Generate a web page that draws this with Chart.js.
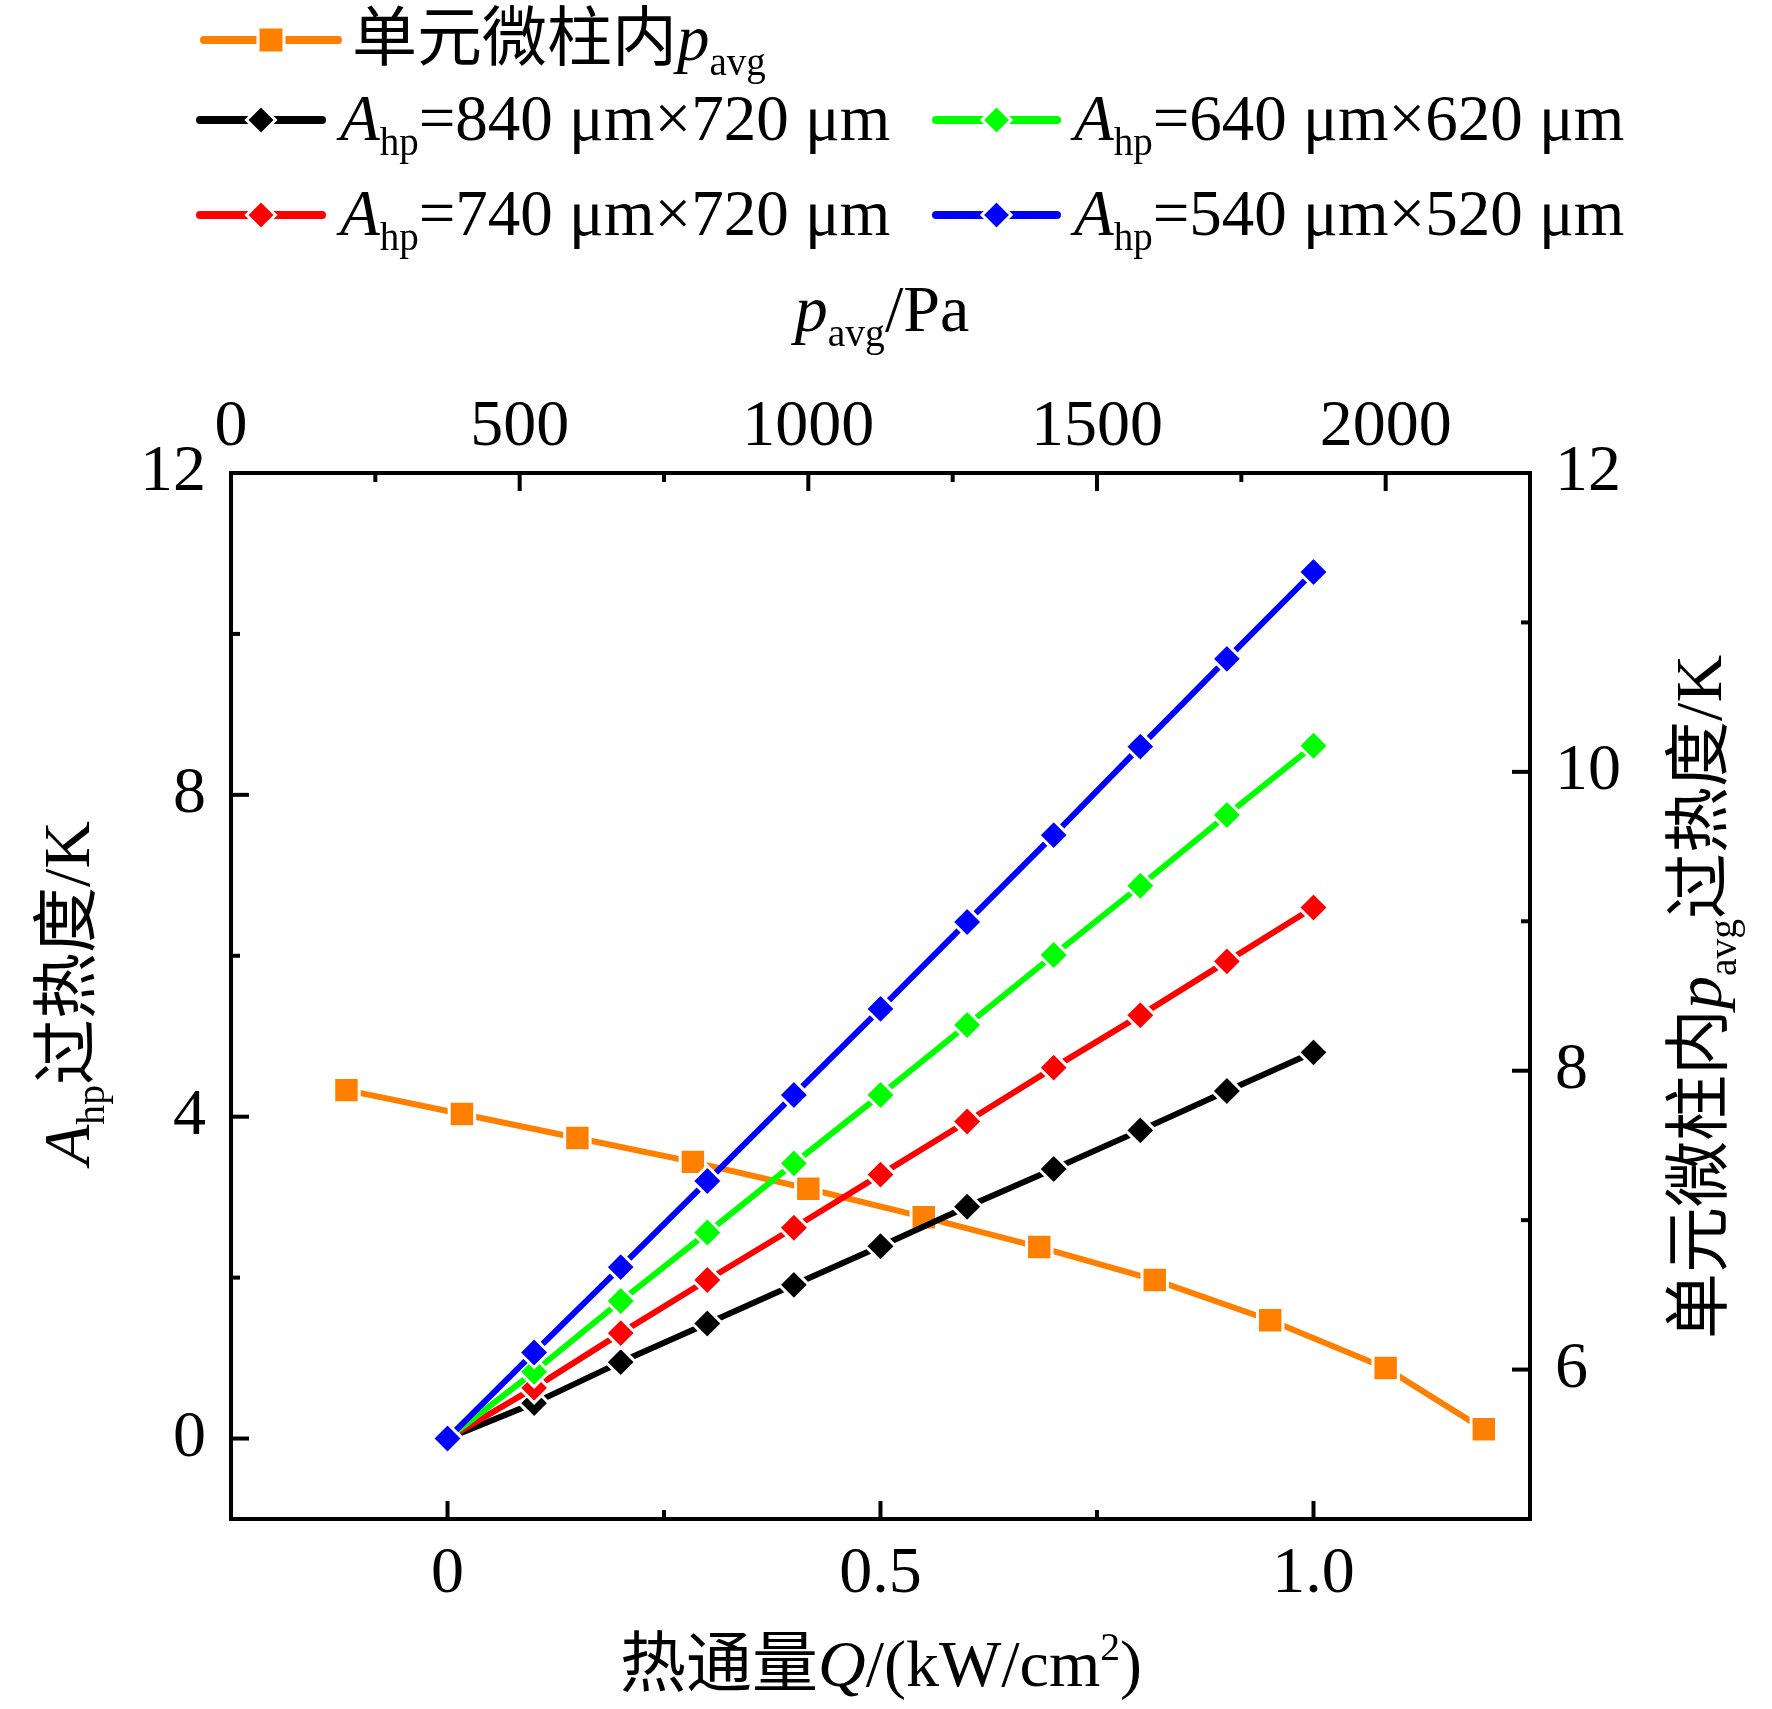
<!DOCTYPE html>
<html>
<head>
<meta charset="utf-8">
<script src="https://cdn.jsdelivr.net/npm/chart.js@4.4.1/dist/chart.umd.min.js"></script>
<style>
  html, body { margin: 0; padding: 0; background: #fff; }
  canvas { display: block; }
</style>
</head>
<body>
<canvas id="chart" width="1772" height="1709"></canvas>
<script>
// 热通量 Q (kW/cm2) - 底部 x 轴
const heatFlux = [0, 0.1, 0.2, 0.3, 0.4, 0.5, 0.6, 0.7, 0.8, 0.9, 1.0];
// 过热度 (K) - 左侧 y 轴
const sh840x720 = [0, 0.44, 0.95, 1.43, 1.91, 2.39, 2.88, 3.35, 3.83, 4.32, 4.80];
const sh740x720 = [0, 0.63, 1.31, 1.97, 2.62, 3.28, 3.94, 4.61, 5.26, 5.93, 6.60];
const sh640x620 = [0, 0.83, 1.71, 2.56, 3.42, 4.27, 5.14, 6.01, 6.87, 7.75, 8.61];
const sh540x520 = [0, 1.07, 2.13, 3.20, 4.27, 5.34, 6.42, 7.50, 8.60, 9.69, 10.77];
// 单元微柱内 p_avg (Pa) - 顶部 x 轴 / 右侧 y 轴
const pAvg = [200, 400, 600, 800, 1000, 1200, 1400, 1600, 1800, 2000, 2170];
const shPavg = [7.87, 7.71, 7.55, 7.39, 7.21, 7.02, 6.82, 6.60, 6.33, 6.01, 5.60];

// 图例文字 (*斜体*, _{下标}, ^{上标})
const seriesLabels = [
    '单元微柱内*p*_{avg}',
    '*A*_{hp}=840 μm×720 μm',
    '*A*_{hp}=640 μm×620 μm',
    '*A*_{hp}=740 μm×720 μm',
    '*A*_{hp}=540 μm×520 μm'
];
const seriesColors = ['#ff8000', '#000000', '#00ff00', '#ff0000', '#0000ff'];

// 刻度
const xTicks = [0, 0.5, 1.0];
const xTickLabels = ['0', '0.5', '1.0'];
const xMinor = [0.25, 0.75];
const yTicks = [0, 4, 8, 12];
const yMinor = [2, 6, 10];
const x2Ticks = [0, 500, 1000, 1500, 2000];
const x2Minor = [250, 750, 1250, 1750];
const y2Ticks = [6, 8, 10, 12];
const y2Minor = [7, 9, 11];

const FAMILY = '"Liberation Serif", "Noto Sans CJK SC", serif';
const FS = 66;

function richParts(s) {
    const parts = [];
    let it = false, buf = '', i = 0;
    const flush = () => { if (buf) parts.push({ t: buf, it: it, mode: 0 }); buf = ''; };
    while (i < s.length) {
        const c = s[i];
        if (c === '*') { flush(); it = !it; i++; }
        else if ((c === '_' || c === '^') && s[i + 1] === '{') {
            flush();
            const j = s.indexOf('}', i);
            parts.push({ t: s.slice(i + 2, j), it: false, mode: c === '_' ? 1 : -1 });
            i = j + 1;
        } else { buf += c; i++; }
    }
    flush();
    return parts;
}

function drawRich(ctx, s, x, y, size, align) {
    const parts = richParts(s);
    let total = 0;
    parts.forEach(p => {
        p.sz = p.mode ? size * 0.6 : size;
        p.font = (p.it ? 'italic ' : '') + p.sz + 'px ' + FAMILY;
        ctx.font = p.font;
        p.w = ctx.measureText(p.t).width;
        total += p.w;
    });
    let cx = align === 'center' ? x - total / 2 : x;
    ctx.textAlign = 'left';
    ctx.textBaseline = 'alphabetic';
    ctx.fillStyle = '#000';
    parts.forEach(p => {
        const dy = p.mode === 1 ? size * 0.23 : (p.mode === -1 ? -size * 0.4 : 0);
        ctx.font = p.font;
        ctx.fillText(p.t, cx, y + dy);
        cx += p.w;
    });
}

function marker(ctx, style, x, y, r, color) {
    ctx.save();
    ctx.beginPath();
    if (style === 'rect') {
        ctx.rect(x - r, y - r, 2 * r, 2 * r);
    } else {
        ctx.moveTo(x, y - r); ctx.lineTo(x + r, y); ctx.lineTo(x, y + r); ctx.lineTo(x - r, y);
        ctx.closePath();
    }
    ctx.fillStyle = color;
    ctx.fill();
    ctx.lineWidth = 3;
    ctx.strokeStyle = '#fff';
    ctx.stroke();
    ctx.restore();
}

// 外框与刻度线
const framePlugin = {
    id: 'frame',
    afterDatasetsDraw(chart) {
        const ctx = chart.ctx;
        const a = chart.chartArea;
        const s = chart.scales;
        ctx.save();
        ctx.strokeStyle = '#000';
        ctx.lineWidth = 4;
        ctx.lineCap = 'butt';
        const tick = (scale, v, len, side) => {
            const p = scale.getPixelForValue(v);
            ctx.beginPath();
            if (side === 'bottom') { ctx.moveTo(p, a.bottom); ctx.lineTo(p, a.bottom - len); }
            if (side === 'top') { ctx.moveTo(p, a.top); ctx.lineTo(p, a.top + len); }
            if (side === 'left') { ctx.moveTo(a.left, p); ctx.lineTo(a.left + len, p); }
            if (side === 'right') { ctx.moveTo(a.right, p); ctx.lineTo(a.right - len, p); }
            ctx.stroke();
        };
        xTicks.forEach(v => tick(s.x, v, 18, 'bottom'));
        xMinor.forEach(v => tick(s.x, v, 9, 'bottom'));
        x2Ticks.forEach(v => tick(s.x2, v, 18, 'top'));
        x2Minor.forEach(v => tick(s.x2, v, 9, 'top'));
        yTicks.forEach(v => tick(s.y, v, 18, 'left'));
        yMinor.forEach(v => tick(s.y, v, 9, 'left'));
        y2Ticks.forEach(v => tick(s.y2, v, 18, 'right'));
        y2Minor.forEach(v => tick(s.y2, v, 9, 'right'));
        ctx.lineJoin = 'miter';
        ctx.strokeRect(a.left, a.top, a.right - a.left, a.bottom - a.top);
        ctx.restore();
    },
    afterDraw(chart) {
        const ctx = chart.ctx;
        ctx.save();
        // 轴标题
        drawRich(ctx, '*p*_{avg}/Pa', 882, 331, FS, 'center');
        drawRich(ctx, '热通量*Q*/(kW/cm^{2})', 881, 1686, FS, 'center');
        ctx.save();
        ctx.translate(89, 993);
        ctx.rotate(-Math.PI / 2);
        drawRich(ctx, '*A*_{hp}过热度/K', 0, 0, FS, 'center');
        ctx.restore();
        ctx.save();
        ctx.translate(1721, 997);
        ctx.rotate(-Math.PI / 2);
        drawRich(ctx, '单元微柱内*p*_{avg}过热度/K', 0, 0, FS, 'center');
        ctx.restore();

        // 图例
        const slots = [
            { x0: 204, x1: 338, tx: 352, base: 60, style: 'rect', r: 13 },
            { x0: 200, x1: 322, tx: 340, base: 140, style: 'rectRot', r: 14.5 },
            { x0: 936, x1: 1057, tx: 1074, base: 140, style: 'rectRot', r: 14.5 },
            { x0: 200, x1: 322, tx: 340, base: 235, style: 'rectRot', r: 14.5 },
            { x0: 936, x1: 1057, tx: 1074, base: 235, style: 'rectRot', r: 14.5 }
        ];
        slots.forEach((sl, i) => {
            const ly = sl.base - 20;
            ctx.strokeStyle = seriesColors[i];
            ctx.lineWidth = 8;
            ctx.lineCap = 'round';
            ctx.beginPath();
            ctx.moveTo(sl.x0, ly);
            ctx.lineTo(sl.x1, ly);
            ctx.stroke();
            marker(ctx, sl.style, (sl.x0 + sl.x1) / 2, ly, sl.r, seriesColors[i]);
            drawRich(ctx, seriesLabels[i], sl.tx, sl.base, 65, 'left');
        });
        ctx.restore();
    }
};

function pts(xs, ys) {
    return xs.map((x, i) => ({ x: x, y: ys[i] }));
}

function lineSet(label, color, xs, ys, style, radius, xAxis, yAxis, order) {
    return {
        label: label,
        data: pts(xs, ys),
        xAxisID: xAxis,
        yAxisID: yAxis,
        order: order,
        borderColor: color,
        backgroundColor: color,
        borderWidth: 6,
        borderCapStyle: 'round',
        borderJoinStyle: 'round',
        tension: 0,
        pointStyle: style,
        pointRadius: radius,
        pointHoverRadius: radius,
        pointBackgroundColor: color,
        pointBorderColor: '#ffffff',
        pointBorderWidth: 3,
        clip: false
    };
}

const tickFont = { family: FAMILY, size: FS, lineHeight: 1.2 };

function axis(pos, min, max, ticks, labels, padding, fit) {
    return {
        type: 'linear',
        position: pos,
        min: min,
        max: max,
        grid: { display: false, drawTicks: false, tickLength: 0 },
        border: { display: false },
        afterBuildTicks: s => { s.ticks = ticks.map(v => ({ value: v })); },
        afterFit: fit,
        ticks: {
            autoSkip: false,
            maxRotation: 0,
            color: '#000',
            font: tickFont,
            padding: padding,
            callback: v => {
                const k = ticks.indexOf(v);
                return labels ? labels[k] : String(v);
            }
        }
    };
}

new Chart(document.getElementById('chart').getContext('2d'), {
    type: 'line',
    data: {
        datasets: [
            lineSet(seriesLabels[4], seriesColors[4], heatFlux, sh540x520, 'rectRot', 15, 'x', 'y', 0),
            lineSet(seriesLabels[2], seriesColors[2], heatFlux, sh640x620, 'rectRot', 15, 'x', 'y', 1),
            lineSet(seriesLabels[3], seriesColors[3], heatFlux, sh740x720, 'rectRot', 15, 'x', 'y', 2),
            lineSet(seriesLabels[1], seriesColors[1], heatFlux, sh840x720, 'rectRot', 15, 'x', 'y', 3),
            lineSet(seriesLabels[0], seriesColors[0], pAvg, shPavg, 'rect', 18, 'x2', 'y2', 4)
        ]
    },
    options: {
        responsive: false,
        animation: false,
        devicePixelRatio: 1,
        layout: { padding: 0 },
        plugins: {
            legend: { display: false },
            tooltip: { enabled: false }
        },
        scales: {
            x: axis('bottom', -0.25, 1.25, xTicks, xTickLabels, 16, s => { s.height = 190; }),
            y: axis('left', -1, 12, yTicks, null, 25, s => { s.width = 231; }),
            x2: axis('top', 0, 2250, x2Ticks, null, 6, s => { s.height = 473; }),
            y2: axis('right', 5, 12, y2Ticks, null, 25, s => { s.width = 242; })
        }
    },
    plugins: [framePlugin]
});
</script>
</body>
</html>
